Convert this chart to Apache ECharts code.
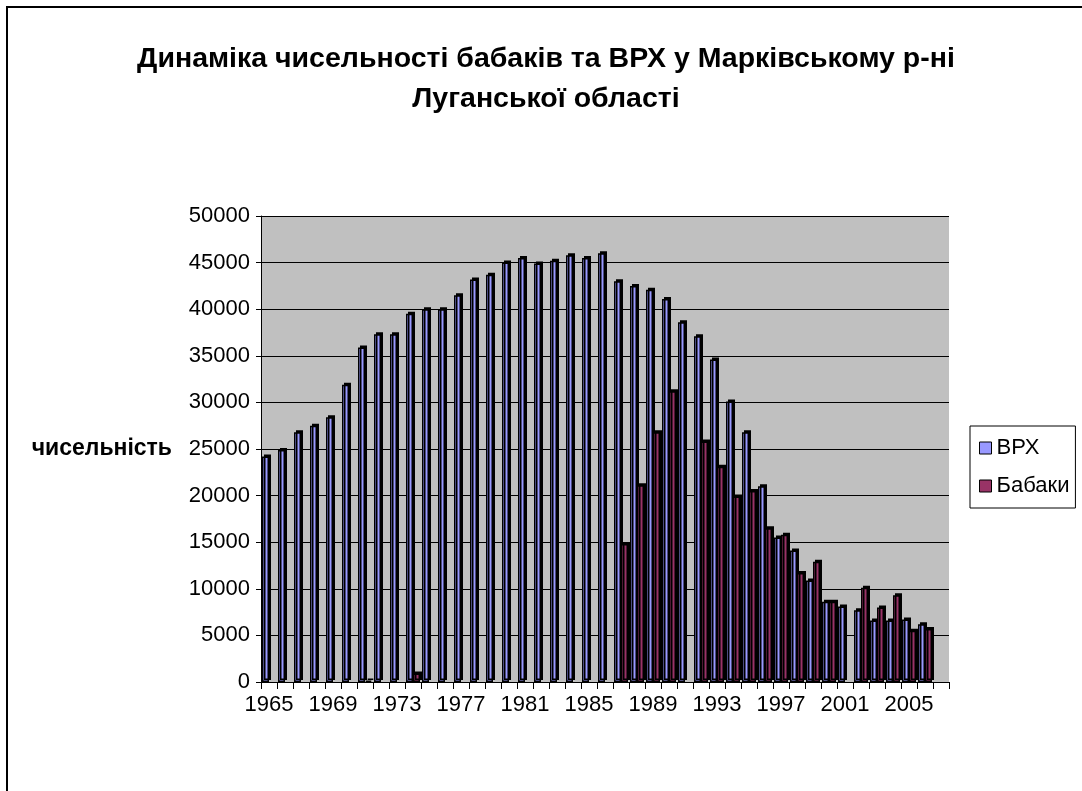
<!DOCTYPE html>
<html>
<head>
<meta charset="utf-8">
<script src="https://cdn.jsdelivr.net/npm/echarts@6/dist/echarts.min.js"></script>
<style>
  html, body { margin: 0; padding: 0; background: #fff; overflow: hidden; }
  #frame { position: absolute; left: 6px; top: 6px; width: 1100px; height: 800px; border: 2px solid #000; }
  #chart { position: absolute; left: 0; top: 0; width: 1082px; height: 791px; }
</style>
</head>
<body>
<div id="frame"></div>
<div id="chart"></div>
<script>
// роки (остання позиція на осі порожня)
const years = ['1965','1966','1967','1968','1969','1970','1971','1972','1973','1974',
  '1975','1976','1977','1978','1979','1980','1981','1982','1983','1984',
  '1985','1986','1987','1988','1989','1990','1991','1992','1993','1994',
  '1995','1996','1997','1998','1999','2000','2001','2002','2003','2004',
  '2005','2006',''];

// ВРХ
const vrh = [24200, 24900, 26800, 27500, 28400, 31900, 35900, 37300, 37300, 39500,
  40000, 40000, 41500, 43200, 43700, 45000, 45500, 44900, 45200, 45800,
  45500, 46000, 43000, 42500, 42100, 41100, 38600, 37100, 34600, 30100,
  26800, 21000, 15500, 14100, 10900, 8600, 8100, 7700, 6600, 6600,
  6700, 6200, null];

// Бабаки
const babaky = [null, null, null, null, null, null, 150, null, null, 900,
  null, null, null, null, null, null, null, null, null, null,
  null, null, 14800, 21100, 26800, 31200, null, 25800, 23100, 19900,
  20500, 16500, 15800, 11700, 12900, 8600, null, 10100, 8000, 9300,
  5500, 5700, null];

const yTicks = { min: 0, max: 50000, interval: 5000 };

const font = "'Liberation Sans', Arial, sans-serif";

let chart = echarts.init(document.getElementById('chart'), null, { width: 1082, height: 791 });

// "3D" look: black side/top through a hard shadow
function barStyle(color) {
  return {
    color: color,
    borderColor: '#000',
    borderWidth: 1.5,
    shadowColor: '#000',
    shadowBlur: 0,
    shadowOffsetX: 2,
    shadowOffsetY: -2
  };
}

chart.setOption({
  animation: false,
  title: {
    text: 'Динаміка чисельності бабаків та ВРХ у Марківському р-ні\nЛуганської області',
    left: 541,
    textAlign: 'center',
    top: 34,
    textStyle: { fontFamily: font, fontSize: 28.5, fontWeight: 'bold', color: '#000', lineHeight: 40 }
  },
  legend: {
    orient: 'vertical',
    left: 970,
    top: 426,
    padding: [11, 6, 11, 9],
    itemGap: 16,
    itemWidth: 12,
    itemHeight: 12,
    borderColor: '#000',
    borderWidth: 1,
    borderRadius: 0,
    icon: 'rect',
    itemStyle: { borderColor: '#000', borderWidth: 1, shadowColor: 'transparent', shadowOffsetX: 0, shadowOffsetY: 0 },
    textStyle: { fontFamily: font, fontSize: 22, color: '#000' },
    data: ['ВРХ', 'Бабаки']
  },
  grid: {
    left: 261,
    right: 133,
    top: 216,
    bottom: 109,
    show: true,
    backgroundColor: '#c0c0c0',
    borderWidth: 0
  },
  xAxis: {
    type: 'category',
    data: years,
    axisLine: { lineStyle: { color: '#000', width: 1 } },
    axisTick: { show: true, length: 7, lineStyle: { color: '#000' }, interval: 0 },
    axisLabel: { interval: 3, margin: 12, fontFamily: font, fontSize: 22, color: '#000' }
  },
  yAxis: {
    type: 'value',
    min: yTicks.min,
    max: yTicks.max,
    interval: yTicks.interval,
    name: 'чисельність',
    nameLocation: 'middle',
    nameRotate: 0,
    nameGap: 89,
    nameTextStyle: { fontFamily: font, fontSize: 23, fontWeight: 'bold', color: '#000' },
    axisLine: { show: true, lineStyle: { color: '#000', width: 1 } },
    axisTick: { show: true, length: 5, lineStyle: { color: '#000' } },
    axisLabel: { margin: 11, fontFamily: font, fontSize: 22, color: '#000', formatter: v => String(v) },
    splitLine: { show: true, lineStyle: { color: '#000', width: 1 } }
  },
  series: [
    {
      name: 'ВРХ',
      type: 'bar',
      data: vrh,
      barWidth: 7,
      barGap: '0%',
      itemStyle: barStyle('#9999ff')
    },
    {
      name: 'Бабаки',
      type: 'bar',
      data: babaky,
      barWidth: 7,
      barGap: '0%',
      itemStyle: barStyle('#993366')
    }
  ]
});
</script>
</body>
</html>
